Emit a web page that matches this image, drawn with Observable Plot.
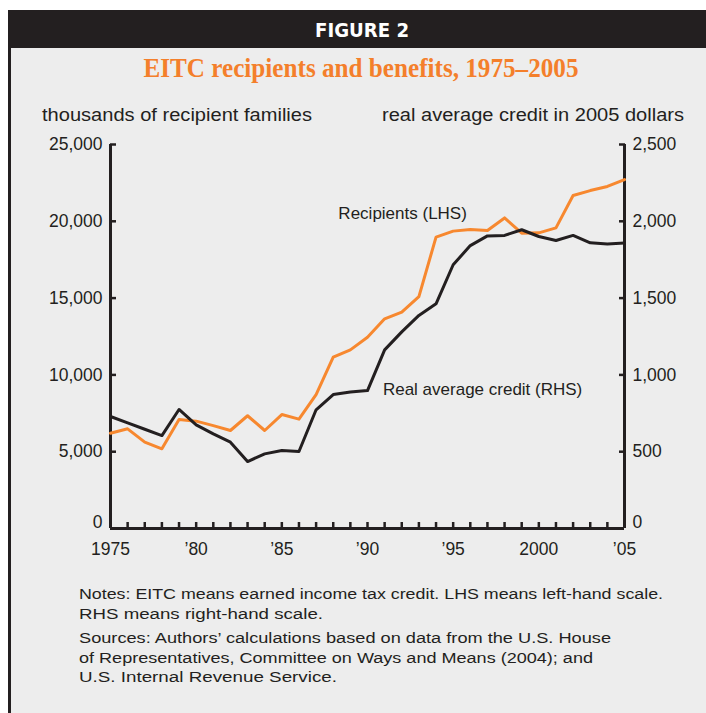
<!DOCTYPE html>
<html>
<head>
<meta charset="utf-8">
<script src="https://cdn.jsdelivr.net/npm/d3@7"></script>
<script src="https://cdn.jsdelivr.net/npm/@observablehq/plot@0.6"></script>
<style>
  html, body { margin: 0; padding: 0; background: #ffffff; }
  #page { position: relative; width: 706px; height: 713px; overflow: hidden; background: #ffffff; }
  #panel { position: absolute; left: 8px; top: 10px; width: 698px; height: 703px; background: #ededed; border-left: 3px solid #231f20; box-sizing: border-box; }
  #band { position: absolute; left: 8px; top: 10px; width: 698px; height: 38px; background: #231f20; }
  #deco { position: absolute; left: 0; top: 0; }
  #chart { position: absolute; left: 0; top: 100px; }
</style>
</head>
<body>
<div id="page">
  <div id="panel"></div>
  <div id="band"></div>
  <div id="chart"></div>
  <svg id="deco" width="706" height="713" xmlns="http://www.w3.org/2000/svg">
    <text x="362" y="37" text-anchor="middle" fill="#ffffff" font-family="'Liberation Sans Narrow','DejaVu Sans Condensed','Liberation Sans',sans-serif" font-weight="bold" font-size="20" textLength="94" lengthAdjust="spacingAndGlyphs">FIGURE 2</text>
    <text x="361" y="77" text-anchor="middle" fill="#f47f2b" font-family="'Liberation Serif','DejaVu Serif',serif" font-weight="bold" font-size="27" textLength="435" lengthAdjust="spacingAndGlyphs">EITC recipients and benefits, 1975–2005</text>
    <text x="42" y="121" fill="#231f20" font-family="'Liberation Sans',Arial,sans-serif" font-size="17.5" textLength="270" lengthAdjust="spacingAndGlyphs">thousands of recipient families</text>
    <text x="684" y="121" text-anchor="end" fill="#231f20" font-family="'Liberation Sans',Arial,sans-serif" font-size="17.5" textLength="302" lengthAdjust="spacingAndGlyphs">real average credit in 2005 dollars</text>
    <g fill="#231f20" font-family="'Liberation Sans',Arial,sans-serif" font-size="15.5">
      <text x="79" y="599" textLength="584" lengthAdjust="spacingAndGlyphs">Notes: EITC means earned income tax credit. LHS means left-hand scale.</text>
      <text x="79" y="619" textLength="244" lengthAdjust="spacingAndGlyphs">RHS means right-hand scale.</text>
      <text x="79" y="643" textLength="532" lengthAdjust="spacingAndGlyphs">Sources: Authors’ calculations based on data from the U.S. House</text>
      <text x="79" y="663" textLength="514" lengthAdjust="spacingAndGlyphs">of Representatives, Committee on Ways and Means (2004); and</text>
      <text x="79" y="682" textLength="258" lengthAdjust="spacingAndGlyphs">U.S. Internal Revenue Service.</text>
    </g>
  </svg>
</div>
<script>
// ---- data ----
const years = [1975,1976,1977,1978,1979,1980,1981,1982,1983,1984,1985,1986,1987,1988,1989,1990,
               1991,1992,1993,1994,1995,1996,1997,1998,1999,2000,2001,2002,2003,2004,2005];
// recipient families, thousands (LHS)
const recipients = [6200,6490,5620,5190,7100,6990,6700,6380,7340,6380,7420,7120,8720,11150,11630,12450,
                    13650,14090,15100,18970,19360,19470,19400,20220,19230,19250,19570,21680,22000,22270,22720];
// real average credit, 2005 dollars (RHS)
const credit = [729,688,646,605,775,675,616,562,436,486,508,501,773,872,888,898,
                1163,1280,1387,1463,1717,1842,1905,1908,1945,1901,1875,1908,1860,1853,1858];
const leftTicks = [0,5000,10000,15000,20000,25000];
const rightTicks = [0,500,1000,1500,2000,2500];
const xLabelYears = [1975,1980,1985,1990,1995,2000,2005];
const xLabels = ["1975","’80","’85","’90","’95","2000","’05"];
const seriesLabels = [
  {name: "Recipients (LHS)", year: 1988.3, value: 20500},
  {name: "Real average credit (RHS)", year: 1990.9, value: 9050}
];
const scaleFactor = 10; // RHS value * 10 -> LHS units

const recData = years.map((y, i) => ({year: y, v: recipients[i]}));
const credData = years.map((y, i) => ({year: y, v: credit[i] * scaleFactor}));

const ink = "#231f20";
const orange = "#f7882f";
const fontFam = "'Liberation Sans', Arial, sans-serif";
const fmt = d3.format(",");

const chart = Plot.plot({
  width: 706,
  height: 470,
  marginTop: 44,
  marginBottom: 42,
  marginLeft: 110,
  marginRight: 82,
  style: {background: "transparent", color: ink, fontFamily: fontFam, fontSize: "17.5px", overflow: "visible"},
  x: {domain: [1975, 2005]},
  y: {domain: [0, 25000]},
  marks: [
    Plot.axisY({anchor: "left", ticks: leftTicks.filter(d => d > 0), tickSize: -6, tickPadding: 14, strokeWidth: 2.5,
                tickFormat: fmt, fontSize: 17.5, label: null}),
    Plot.axisY({anchor: "left", ticks: [leftTicks[0]], tickSize: 0, tickPadding: 8, dy: -6,
                tickFormat: fmt, fontSize: 17.5, label: null}),
    Plot.axisY({anchor: "right", ticks: rightTicks.filter(d => d > 0).map(d => d * scaleFactor), tickSize: -6, tickPadding: 14, strokeWidth: 2.5,
                tickFormat: d => fmt(d / scaleFactor), fontSize: 17.5, label: null}),
    Plot.axisY({anchor: "right", ticks: [rightTicks[0] * scaleFactor], tickSize: 0, tickPadding: 8, dy: -6,
                tickFormat: d => fmt(d / scaleFactor), fontSize: 17.5, label: null}),
    Plot.axisX({ticks: years, tickSize: -6, tickFormat: () => "", strokeWidth: 2.5, label: null}),
    Plot.axisX({ticks: xLabelYears, tickSize: 0, tickPadding: 14, fontSize: 17.5,
                tickFormat: d => xLabels[xLabelYears.indexOf(d)], label: null}),
    Plot.ruleX([1975, 2005], {y1: 0, y2: 25000, stroke: ink, strokeWidth: 3}),
    Plot.ruleY([0], {x1: 1975, x2: 2005, stroke: ink, strokeWidth: 3}),
    Plot.line(recData, {x: "year", y: "v", stroke: orange, strokeWidth: 3}),
    Plot.line(credData, {x: "year", y: "v", stroke: ink, strokeWidth: 3}),
    Plot.text(seriesLabels, {x: "year", y: "value", text: "name", textAnchor: "start", fill: ink, fontSize: 17})
  ]
});
document.getElementById("chart").appendChild(chart);
</script>
</body>
</html>
